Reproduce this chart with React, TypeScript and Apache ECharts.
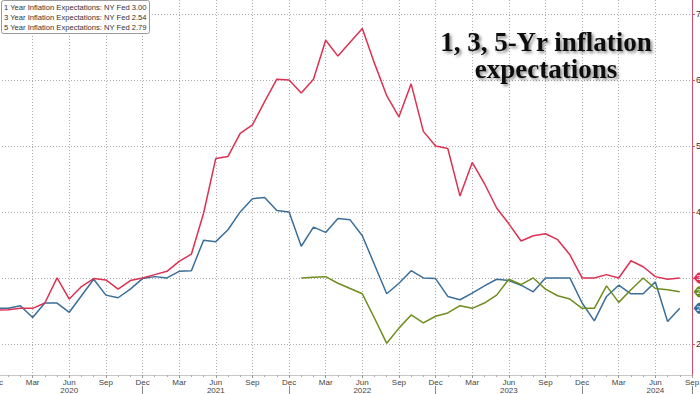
import React, { useEffect, useRef } from "react";
import * as echarts from "echarts";

// Monthly index 0 = Dec 2019 ... 56 = Aug 2024
const MONTHS = ["Jan", "Feb", "Mar", "Apr", "May", "Jun", "Jul", "Aug", "Sep", "Oct", "Nov", "Dec"];
const START_YEAR = 2019;
const START_MONTH = 11; // December

const oneYear = [
  2.51, 2.52, 2.54, 2.54, 2.62, 3.0, 2.68, 2.87, 2.99, 2.97, 2.83, 2.96,
  3.0, 3.05, 3.1, 3.25, 3.36, 3.98, 4.81, 4.84, 5.19, 5.32, 5.67, 6.01,
  6.0, 5.8, 6.01, 6.6, 6.36, 6.57, 6.78, 6.25, 5.76, 5.44, 5.94, 5.22,
  5.0, 4.96, 4.24, 4.75, 4.43, 4.06, 3.82, 3.56, 3.64, 3.67, 3.58, 3.35,
  3.0, 3.0, 3.05, 3.0, 3.26, 3.17, 3.02, 2.98, 3.0,
];
const threeYear = [
  2.54, 2.54, 2.58, 2.4, 2.62, 2.62, 2.48, 2.73, 2.98, 2.74, 2.7, 2.83,
  2.99, 3.02, 3.0, 3.1, 3.11, 3.57, 3.55, 3.73, 4.0, 4.2, 4.22, 4.02,
  4.0, 3.48, 3.77, 3.69, 3.9, 3.88, 3.64, 3.2, 2.76, 2.92, 3.11, 3.0,
  2.99, 2.72, 2.67, 2.77, 2.88, 2.98, 2.96, 2.89, 2.79, 3.0, 3.0, 3.0,
  2.62, 2.35, 2.72, 2.89, 2.76, 2.76, 2.94, 2.34, 2.54,
];
const fiveYear: (number | null)[] = [
  null, null, null, null, null, null, null, null, null, null, null, null,
  null, null, null, null, null, null, null, null, null, null, null, null,
  null, 3.0, 3.01, 3.02, 2.92, 2.84, 2.76, 2.39, 2.01, 2.24, 2.44, 2.32,
  2.42, 2.47, 2.58, 2.54, 2.62, 2.74, 2.98, 2.9, 3.0, 2.83, 2.73, 2.68,
  2.54, 2.54, 2.88, 2.63, 2.82, 3.0, 2.84, 2.82, 2.79,
];
const seriesNames = [
  "1 Year Inflation Expectations: NY Fed",
  "3 Year Inflation Expectations: NY Fed",
  "5 Year Inflation Expectations: NY Fed",
];
const yTicks = [2, 3, 4, 5, 6, 7];
const titleLines = ["1, 3, 5-Yr inflation", "expectations"];

const RED = "#dc3152";
const BLUE = "#3b6e99";
const GREEN = "#6e8d1e";

const lastOf = (arr: (number | null)[]) => {
  for (let i = arr.length - 1; i >= 0; i--) if (arr[i] != null) return arr[i] as number;
  return 0;
};

const monthLabel = (v: number) => {
  const t = START_MONTH + v;
  const m = ((t % 12) + 12) % 12;
  const y = START_YEAR + Math.floor(t / 12);
  return m === 5 ? `${MONTHS[m]}\n${y}` : MONTHS[m];
};

const tagPath =
  "path://M0,6 L4,1 Q5,0 6,0 L14,0 Q16,0 16,2 L16,10 Q16,12 14,12 L6,12 Q5,12 4,11 Z";

export default function App() {
  const ref = useRef<HTMLDivElement>(null);
  useEffect(() => {
    if (!ref.current) return;
    const chart = echarts.init(ref.current, undefined, { renderer: "svg" });
    const xMax = 57;
    const mk = (name: string, data: (number | null)[], color: string, z: number) => {
      const last = lastOf(data);
      return {
        name,
        type: "line",
        xAxisIndex: 0,
        yAxisIndex: 0,
        data: data.map((v, i) => [i, v]),
        symbol: "none",
        connectNulls: false,
        clip: false,
        z,
        lineStyle: { color, width: 1.5 },
        itemStyle: { color },
        emphasis: { disabled: true },
        markPoint: {
          symbol: tagPath,
          symbolSize: [15, 11],
          symbolOffset: [9, 0],
          itemStyle: { color },
          label: {
            show: true,
            position: "insideLeft",
            distance: 3,
            color: "#fff",
            fontSize: 8,
            fontFamily: "Liberation Sans",
            formatter: () => last.toFixed(2),
          },
          data: [{ coord: [xMax, last], value: last }],
        },
      };
    };
    const legendText = [
      `${seriesNames[0]} ${lastOf(oneYear).toFixed(2)}`,
      `${seriesNames[1]} ${lastOf(threeYear).toFixed(2)}`,
      `${seriesNames[2]} ${lastOf(fiveYear).toFixed(2)}`,
    ].join("\n");
    const gridStyle = { color: "#acacac", type: [1, 2], width: 1 };
    chart.setOption({
      animation: false,
      backgroundColor: "#ffffff",
      title: {
        text: legendText,
        left: 1,
        top: 0,
        padding: [2, 3, 2, 3],
        backgroundColor: "#ffffff",
        borderColor: "#9a9a9a",
        borderWidth: 1,
        borderRadius: 2,
        textStyle: {
          fontSize: 7.6,
          lineHeight: 10,
          color: "#333",
          fontWeight: "normal",
          fontFamily: "'Liberation Sans Narrow', 'Liberation Sans', sans-serif",
        },
        z: 10,
      },
      graphic: [
        {
          type: "text",
          x: 546,
          y: 28,
          z: 20,
          style: {
            text: titleLines.join("\n"),
            textAlign: "center",
            textVerticalAlign: "top",
            fontSize: 27,
            lineHeight: 27,
            fontWeight: "bold",
            fontFamily: "'Liberation Serif', 'DejaVu Serif', serif",
            fill: "#111",
            textShadowColor: "rgba(0,0,0,0.45)",
            textShadowBlur: 3,
            textShadowOffsetX: 2,
            textShadowOffsetY: 2,
          },
        },
      ],
      grid: {
        left: -4,
        right: 8,
        top: 0,
        bottom: 19,
        containLabel: false,
        outerBoundsMode: "none",
      },
      xAxis: [
        {
          type: "value",
          min: 0,
          max: xMax,
          interval: 3,
          position: "bottom",
          axisLine: { show: true, onZero: false, lineStyle: { color: "#c8c8c8" } },
          axisTick: { show: true, length: 3, lineStyle: { color: "#999" } },
          minorTick: { show: true, splitNumber: 3, length: 2, lineStyle: { color: "#aaa" } },
          axisLabel: {
            show: true,
            margin: 3,
            fontSize: 8,
            lineHeight: 8.5,
            color: "#444",
            fontFamily: "Liberation Sans",
            formatter: (v: number) => monthLabel(v),
          },
          splitLine: { show: true, lineStyle: { ...gridStyle } },
        },
        {
          type: "value",
          min: 0,
          max: xMax,
          interval: 12,
          position: "bottom",
          offset: 11,
          axisLine: { show: false, onZero: false },
          axisTick: { show: true, length: 9, lineStyle: { color: "#888" } },
          axisLabel: { show: false },
          splitLine: { show: false },
        },
      ],
      yAxis: {
        type: "value",
        position: "right",
        min: 1.53,
        max: 7.21,
        axisLine: { show: true, onZero: false, lineStyle: { color: "#d8506c", width: 1 } },
        axisTick: { show: true, length: 3, customValues: yTicks, lineStyle: { color: "#d8506c" } },
        axisLabel: {
          show: true,
          margin: 4,
          fontSize: 9,
          color: "#333",
          fontFamily: "Liberation Sans",
          customValues: yTicks,
        },
        splitLine: { show: true, lineStyle: { ...gridStyle } },
      },
      series: [
        mk(seriesNames[1], threeYear, BLUE, 2),
        mk(seriesNames[2], fiveYear, GREEN, 3),
        mk(seriesNames[0], oneYear, RED, 4),
      ],
    });
    return () => chart.dispose();
  }, []);
  return (
    <div
      ref={ref}
      style={{ position: "fixed", left: 0, top: 0, width: 700, height: 394, background: "#fff" }}
    />
  );
}
